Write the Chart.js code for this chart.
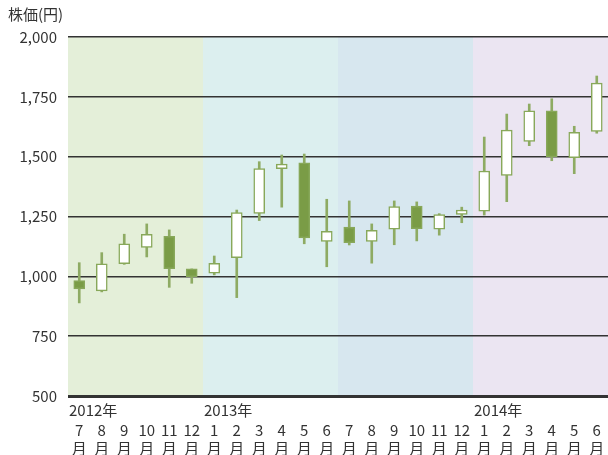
<!DOCTYPE html>
<html>
<head>
<meta charset="utf-8">
<script src="https://cdn.jsdelivr.net/npm/chart.js@4"></script>
<style>
  body { margin: 0; background: #fff; }
  #wrap { position: relative; width: 608px; height: 455px; }
</style>
</head>
<body>
<div id="wrap"><canvas id="stockChart" width="608" height="455"></canvas></div>
<script>
const months = ['7', '8', '9', '10', '11', '12', '1', '2', '3', '4', '5', '6',
                '7', '8', '9', '10', '11', '12', '1', '2', '3', '4', '5', '6'];
const yearLabels = [{ index: 0, text: '2012年' }, { index: 6, text: '2013年' }, { index: 18, text: '2014年' }];

const opens  = [982, 939, 1053, 1121, 1167, 1031, 1013, 1078, 1263, 1450, 1474, 1146,
                1206, 1146, 1197, 1294, 1197, 1259, 1272, 1422, 1564, 1691, 1496, 1606];
const closes = [947, 1052, 1136, 1176, 1032, 999, 1054, 1266, 1450, 1469, 1160, 1188,
                1141, 1192, 1291, 1199, 1258, 1277, 1440, 1611, 1691, 1499, 1602, 1807];
const highs  = [1057, 1099, 1176, 1219, 1194, 1031, 1085, 1277, 1479, 1507, 1511, 1322,
                1315, 1219, 1315, 1311, 1262, 1289, 1582, 1678, 1720, 1742, 1627, 1837];
const lows   = [889, 935, 1050, 1081, 954, 971, 1006, 911, 1233, 1289, 1136, 1040,
                1131, 1055, 1132, 1148, 1172, 1224, 1256, 1312, 1546, 1483, 1429, 1598];

// background bands by half-year
const bands = [
  { from: 0,  to: 6,  color: '#e4efd9' },
  { from: 6,  to: 12, color: '#dcefef' },
  { from: 12, to: 18, color: '#d7e7ef' },
  { from: 18, to: 24, color: '#ebe5f2' }
];

const FONT = '"Noto Sans CJK JP", "Noto Sans", sans-serif';
const GREEN = '#7a9c46';

const bandPlugin = {
  id: 'bands',
  beforeDraw(chart) {
    const { ctx, chartArea, scales: { x } } = chart;
    const half = (x.getPixelForValue(1) - x.getPixelForValue(0)) / 2;
    ctx.save();
    bands.forEach(b => {
      const left = b.from === 0 ? chartArea.left : x.getPixelForValue(b.from) - half;
      const right = b.to >= months.length ? chartArea.right : x.getPixelForValue(b.to) - half;
      ctx.fillStyle = b.color;
      ctx.fillRect(left, chartArea.top, right - left, chartArea.bottom - chartArea.top);
    });
    ctx.restore();
  },
  afterDraw(chart) {
    const { ctx, chartArea, scales: { x } } = chart;
    const half = (x.getPixelForValue(1) - x.getPixelForValue(0)) / 2;
    ctx.save();
    ctx.fillStyle = '#333';
    ctx.font = '15px ' + FONT;
    ctx.textBaseline = 'middle';
    ctx.textAlign = 'left';
    // year labels sit on the empty first line of the tick labels
    yearLabels.forEach(y => {
      ctx.fillText(y.text, x.getPixelForValue(y.index) - half + 1, chartArea.bottom + 14);
    });
    // axis title
    ctx.textBaseline = 'top';
    ctx.fillText('株価(円)', 8, 7);
    ctx.restore();
  }
};

new Chart(document.getElementById('stockChart'), {
  type: 'bar',
  data: {
    labels: months.map(m => ['', m, '月']),
    datasets: [
      {
        label: 'body',
        data: opens.map((o, i) => [o, closes[i]]),
        backgroundColor: opens.map((o, i) => closes[i] >= o ? '#ffffff' : GREEN),
        borderColor: '#88a85a',
        borderWidth: 1.5,
        borderSkipped: false,
        barThickness: 11,
        grouped: false,
        order: 0
      },
      {
        label: 'wick',
        data: lows.map((l, i) => [l, highs[i]]),
        backgroundColor: '#8eab63',
        barThickness: 2,
        grouped: false,
        order: 1
      }
    ]
  },
  options: {
    responsive: false,
    animation: false,
    layout: { padding: { top: 37, right: 0, left: 0, bottom: -9 } },
    plugins: {
      legend: { display: false },
      tooltip: { enabled: false }
    },
    scales: {
      x: {
        grid: { display: false, drawTicks: false },
        border: { display: false },
        // let the plot run to the right edge of the canvas
        afterFit: s => { s.paddingRight = 0; s.paddingLeft = 0; },
        ticks: {
          color: '#333',
          font: { family: FONT, size: 15, lineHeight: 1.2 },
          autoSkip: false,
          maxRotation: 0,
          minRotation: 0,
          padding: 7
        }
      },
      y: {
        min: 500,
        max: 2000,
        afterFit: s => { s.width = 68; },
        grid: {
          color: '#333',
          lineWidth: c => c.tick && c.tick.value === 500 ? 3 : 1.5,
          drawTicks: false
        },
        border: { display: false },
        ticks: {
          stepSize: 250,
          color: '#333',
          font: { family: FONT, size: 15 },
          padding: 11,
          callback: v => v.toLocaleString('en-US')
        }
      }
    }
  },
  plugins: [bandPlugin]
});
</script>
</body>
</html>
